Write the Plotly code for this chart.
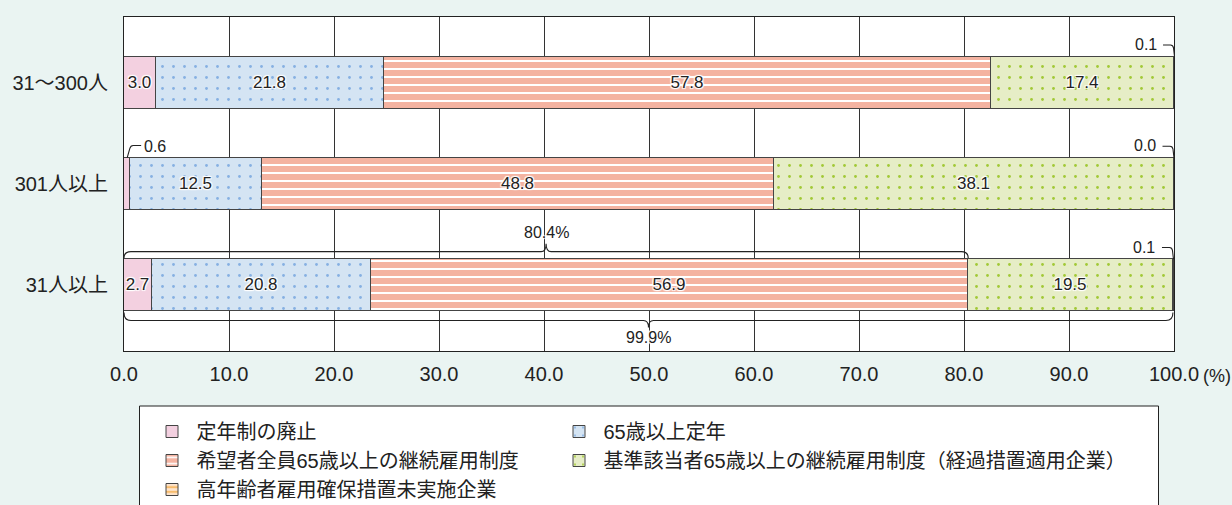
import plotly.graph_objects as go

# ---------------- data ----------------
categories = ["31～300人", "301人以上", "31人以上"]
series_names = [
    "定年制の廃止",
    "65歳以上定年",
    "希望者全員65歳以上の継続雇用制度",
    "基準該当者65歳以上の継続雇用制度（経過措置適用企業）",
    "高年齢者雇用確保措置未実施企業",
]
abolished = [3.0, 0.6, 2.7]
retire_65 = [21.8, 12.5, 20.8]
all_applicants_65 = [57.8, 48.8, 56.9]
criteria_65 = [17.4, 38.1, 19.5]
not_implemented = [0.1, 0.0, 0.1]
x_ticks = [0, 10, 20, 30, 40, 50, 60, 70, 80, 90, 100]
x_tick_labels = ["0.0", "10.0", "20.0", "30.0", "40.0", "50.0", "60.0", "70.0", "80.0", "90.0", "100.0"]
series_values = [abolished, retire_65, all_applicants_65, criteria_65, not_implemented]

# ---------------- geometry helpers ----------------
W, H = 1232, 505
PX_L, PX_R, PX_T, PX_B = 124, 1174, 17, 351
XR = (0, 100)
YR = (-0.65, 2.65)
BW = 0.515

def dx(p):
    return p * (XR[1] - XR[0]) / (PX_R - PX_L)

def dy(p):
    return p * (YR[1] - YR[0]) / (PX_B - PX_T)

def xp(px):
    return (px - PX_L) / (PX_R - PX_L)

def yp(py):
    return (PX_B - py) / (PX_B - PX_T)

n = len(categories)
ypos = [n - 1 - i for i in range(n)]

FONT = "Liberation Sans, Arial, Noto Sans CJK JP, sans-serif"
TXT = "#222222"
HALO = "1px 1px 1px white, -1px -1px 1px white, 1px -1px 1px white, -1px 1px 1px white, 0px 0px 2px white"

styles = [
    dict(color="#F3D0E0", pattern=None),
    dict(color="#D4E4F3", pattern=dict(shape=".", bgcolor="#D4E4F3", fgcolor="#86B0E2", size=11, solidity=0.05, fillmode="replace")),
    dict(color="#F4B3A1", pattern=dict(shape="-", bgcolor="#F4B3A1", fgcolor="#FFFFFF", size=8, solidity=0.25, fillmode="replace")),
    dict(color="#E6EDC6", pattern=dict(shape=".", bgcolor="#E6EDC6", fgcolor="#A2C936", size=11, solidity=0.05, fillmode="replace")),
    dict(color="#FDE4CD", pattern=dict(shape="-", bgcolor="#FDE4CD", fgcolor="#F5AA40", size=6, solidity=0.3, fillmode="replace")),
]
# legend column for each series (two-column legend box)
legend_ids = ["legend", "legend2", "legend", "legend2", "legend"]

fig = go.Figure()
for name, vals, st, lg in zip(series_names, series_values, styles, legend_ids):
    marker = dict(color=st["color"], line=dict(color="#444444", width=1))
    if st["pattern"]:
        marker["pattern"] = st["pattern"]
    fig.add_trace(go.Bar(
        name=name,
        orientation="h",
        x=vals,
        y=ypos,
        width=BW,
        marker=marker,
        text=[f"{v:.1f}" if v >= 1 else "" for v in vals],
        textposition="inside",
        insidetextanchor="middle",
        textangle=0,
        constraintext="none",
        textfont=dict(family=FONT, size=17, color=TXT, shadow=HALO),
        hoverinfo="skip",
        legend=lg,
    ))

shapes = []
annotations = []
LINE = dict(color="#222222", width=1.1)

# leader lines for tiny segments
for r in range(n):
    ytop = ypos[r] + BW / 2
    cum = 0.0
    for s, vals in enumerate(series_values):
        v = vals[r]
        xc = cum + v / 2
        if v < 1:
            if s == 0:
                yt = ytop + dy(12.5)
                path = (f"M{xc},{ytop} L{xc + dx(2.7)},{yt - dy(3)} "
                        f"Q{xc + dx(3.5)},{yt} {xc + dx(6)},{yt} L{xc + dx(14)},{yt}")
                annotations.append(dict(x=xc + dx(15), y=ytop + dy(11.5), xref="x", yref="y",
                                        text=f"{v:.1f}", showarrow=False, xanchor="left", yanchor="middle",
                                        font=dict(family=FONT, size=16, color=TXT)))
            else:
                yt = ytop + dy(11.7)
                path = (f"M{xc - dx(11.5)},{yt} L{xc - dx(4)},{yt} "
                        f"Q{xc - dx(1.5)},{yt} {xc - dx(1)},{yt - dy(3)} L{xc},{ytop}")
                annotations.append(dict(x=xc - dx(16), y=ytop + dy(12), xref="x", yref="y",
                                        text=f"{v:.1f}", showarrow=False, xanchor="right", yanchor="middle",
                                        font=dict(family=FONT, size=16, color=TXT)))
            shapes.append(dict(type="path", path=path, xref="x", yref="y", line=LINE, layer="above"))
        cum += v

# braces for the last row (31人以上)
r = n - 1
ytop = ypos[r] + BW / 2
ybot = ypos[r] - BW / 2
upper_total = round(sum(series_values[k][r] for k in range(3)), 1)
lower_total = round(sum(series_values[k][r] for k in range(4)), 1)

def brace_path(x0, x1, yl, ye, ytip):
    xm = (x0 + x1) / 2
    rx = dx(7)
    rt = dx(5)
    return (f"M{x0},{ye} Q{x0},{yl} {x0 + rx},{yl} L{xm - rt},{yl} "
            f"Q{xm},{yl} {xm},{ytip} Q{xm},{yl} {xm + rt},{yl} "
            f"L{x1 - rx},{yl} Q{x1},{yl} {x1},{ye}")

yl = ytop + dy(7.5)
shapes.append(dict(type="path", xref="x", yref="y", line=LINE, layer="above",
                   path=brace_path(0, upper_total, yl, ytop + dy(1.2), yl + dy(8))))
annotations.append(dict(x=upper_total / 2, y=ytop + dy(27), xref="x", yref="y",
                        text=f"{upper_total:.1f}%", showarrow=False, xanchor="center", yanchor="middle",
                        font=dict(family=FONT, size=16, color=TXT, shadow=HALO)))
yl = ybot - dy(9.3)
shapes.append(dict(type="path", xref="x", yref="y", line=LINE, layer="above",
                   path=brace_path(0, lower_total, yl, ybot - dy(1.2), yl - dy(7))))
annotations.append(dict(x=lower_total / 2, y=ybot - dy(26), xref="x", yref="y",
                        text=f"{lower_total:.1f}%", showarrow=False, xanchor="center", yanchor="middle",
                        font=dict(family=FONT, size=16, color=TXT, shadow=HALO)))

# unit label
annotations.append(dict(x=xp(1217), y=yp(376), xref="paper", yref="paper", text="(%)",
                        showarrow=False, xanchor="center", yanchor="middle",
                        font=dict(family=FONT, size=18, color=TXT)))

# legend frame
shapes.append(dict(type="rect", xref="paper", yref="paper",
                   x0=xp(139.5), x1=xp(1158.5), y0=yp(406), y1=yp(540),
                   fillcolor="white", line=dict(color="#222222", width=1), layer="below"))

legend_common = dict(
    orientation="v", yanchor="top", xanchor="left",
    itemwidth=39, tracegroupgap=0,
    bgcolor="rgba(0,0,0,0)", borderwidth=0,
    font=dict(family=FONT, size=20, color=TXT),
    traceorder="normal",
    itemclick=False, itemdoubleclick=False,
)

fig.update_layout(
    width=W, height=H,
    margin=dict(l=PX_L, r=W - PX_R, t=PX_T, b=H - PX_B, pad=0, autoexpand=False),
    paper_bgcolor="#EAF4F2",
    plot_bgcolor="white",
    barmode="stack",
    bargap=0,
    shapes=shapes,
    annotations=annotations,
    font=dict(family=FONT, color=TXT),
    showlegend=True,
    legend=dict(x=xp(147.5), y=yp(412), **legend_common),
    legend2=dict(x=xp(147.5 + 407), y=yp(412), **legend_common),
    xaxis=dict(
        range=list(XR), tickvals=x_ticks, ticktext=x_tick_labels,
        showgrid=True, gridcolor="#333333", gridwidth=1,
        showline=True, linecolor="#222222", linewidth=1, mirror=True,
        zeroline=False, ticks="", ticklabelstandoff=5,
        tickfont=dict(family=FONT, size=20, color=TXT),
        fixedrange=True,
    ),
    yaxis=dict(
        range=list(YR), tickvals=ypos, ticktext=categories,
        showgrid=False, zeroline=False,
        showline=True, linecolor="#222222", linewidth=1, mirror=True,
        ticks="", ticklabelstandoff=11,
        tickfont=dict(family=FONT, size=20, color=TXT),
        fixedrange=True,
    ),
)

fig.write_html("out.html", config={"displayModeBar": False},
               post_script="document.body.style.margin='0';")
